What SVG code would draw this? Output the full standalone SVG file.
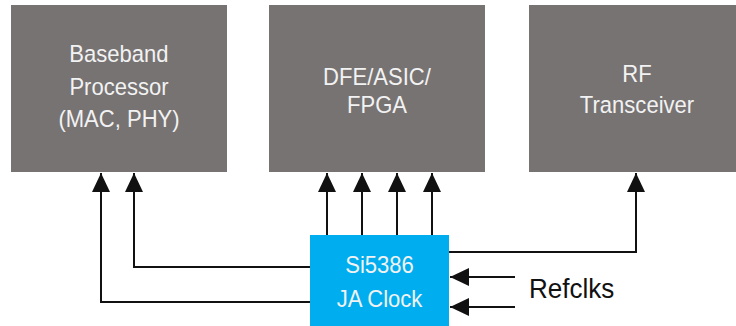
<svg xmlns="http://www.w3.org/2000/svg" width="736" height="326" viewBox="0 0 736 326">
  <defs>
    <style>
      .blk { fill: #777373; }
      .clk { fill: #00AEEF; }
      .lbl { font-family: "Liberation Sans", Arial, sans-serif; font-size: 24.5px; fill: #F2F2F2; text-anchor: middle; }
      .ext { font-family: "Liberation Sans", Arial, sans-serif; font-size: 28px; fill: #111111; }
      .wire { fill: none; stroke: #111111; stroke-width: 2; marker-end: url(#arr); }
    </style>
    <marker id="arr" markerUnits="userSpaceOnUse" markerWidth="20" markerHeight="18" viewBox="0 0 20 18" refX="19" refY="9" orient="auto">
      <path d="M0,0 L19,9 L0,18 Z" fill="#111111"/>
    </marker>
  </defs>

  <g id="baseband">
    <rect class="blk" x="11" y="5" width="216" height="167"/>
    <text class="lbl" transform="translate(119,62) scale(0.9,1)">Baseband</text>
    <text class="lbl" transform="translate(119,95) scale(0.9,1)">Processor</text>
    <text class="lbl" transform="translate(119,127) scale(0.9,1)">(MAC, PHY)</text>
  </g>

  <g id="dfe">
    <rect class="blk" x="269" y="5" width="216" height="167"/>
    <text class="lbl" transform="translate(377,85) scale(0.9,1)">DFE/ASIC/</text>
    <text class="lbl" transform="translate(377,113) scale(0.9,1)">FPGA</text>
  </g>

  <g id="rf">
    <rect class="blk" x="529" y="5" width="216" height="167"/>
    <text class="lbl" transform="translate(637,82) scale(0.9,1)">RF</text>
    <text class="lbl" transform="translate(637,113) scale(0.9,1)">Transceiver</text>
  </g>

  <g id="clock">
    <rect class="clk" x="310" y="235" width="139" height="91"/>
    <text class="lbl" transform="translate(379.5,273) scale(0.9,1)">Si5386</text>
    <text class="lbl" transform="translate(379.5,307) scale(0.9,1)">JA Clock</text>
  </g>

  <g id="refclks">
    <text class="ext" transform="translate(529,298) scale(0.93,1)">Refclks</text>
  </g>

  <g id="connectors">
    <path class="wire" d="M310,302 H101 V173"/>
    <path class="wire" d="M310,267 H134 V173"/>
    <path class="wire" d="M327,235 V173"/>
    <path class="wire" d="M362,235 V173"/>
    <path class="wire" d="M397,235 V173"/>
    <path class="wire" d="M432,235 V173"/>
    <path class="wire" d="M449,252 H636 V173"/>
    <path class="wire" d="M515,277 H450"/>
    <path class="wire" d="M515,307 H450"/>
  </g>
</svg>
